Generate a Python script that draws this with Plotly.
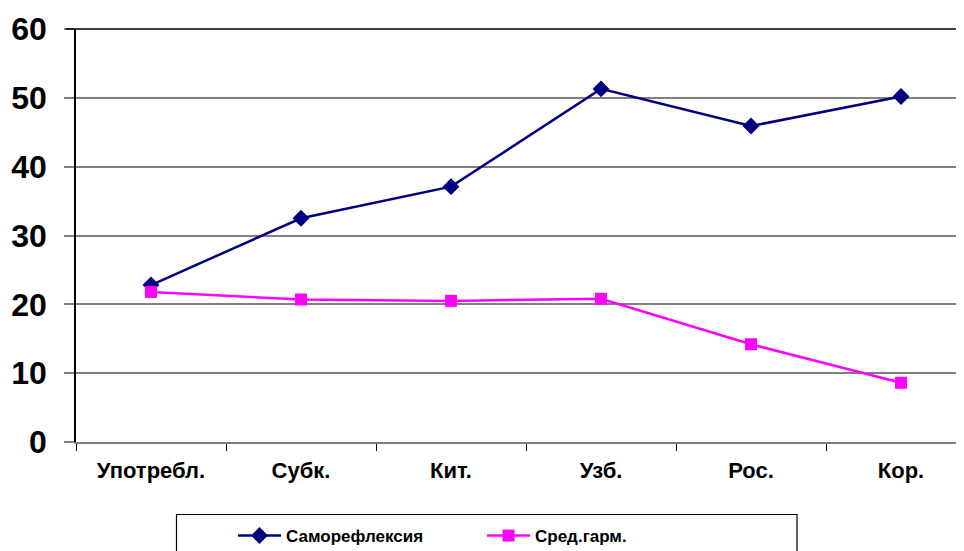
import plotly.graph_objects as go

categories = ["Употребл.", "Субк.", "Кит.", "Узб.", "Рос.", "Кор."]
samorefleksiya = [22.8, 32.5, 37.1, 51.3, 45.9, 50.2]
sred_garm = [21.8, 20.7, 20.5, 20.8, 14.2, 8.6]
y_ticks = [0, 10, 20, 30, 40, 50, 60]

FONT = "Liberation Sans, Arial, sans-serif"

fig = go.Figure()
fig.add_trace(go.Scatter(
    x=categories, y=samorefleksiya, name="Саморефлексия", mode="lines+markers",
    line=dict(color="#000080", width=2.5),
    marker=dict(symbol="diamond", size=13, color="#000080"),
))
fig.add_trace(go.Scatter(
    x=categories, y=sred_garm, name="Сред.гарм.", mode="lines+markers",
    line=dict(color="#FF00FF", width=2.5),
    marker=dict(symbol="square", size=12, color="#FF00FF"),
))

W, H = 964, 551
OFF = 8  # page body margin
L, R, T, B = 68, 0, 21, 117
pw = W - L - R
ph = H - T - B

def px_x(px):
    return (px - OFF - L) / pw

def px_y(py):
    return (H - B - (py - OFF)) / ph

fig.update_layout(
    width=W, height=H,
    margin=dict(l=L, r=R, t=T, b=B, pad=0, autoexpand=False),
    paper_bgcolor="white", plot_bgcolor="white",
    font=dict(family=FONT, color="black"),
    showlegend=True,
    legend=dict(
        orientation="h", x=px_x(233), xanchor="left", y=px_y(536), yanchor="middle",
        font=dict(family=FONT, size=17, color="black", weight="bold"),
        bgcolor="rgba(0,0,0,0)", borderwidth=0,
        entrywidth=191, entrywidthmode="pixels",
        itemwidth=43,
    ),
    xaxis=dict(
        range=[-0.5, -0.5 + pw / 150.0],
        showgrid=False, showline=True, linecolor="#808080", linewidth=2,
        ticks="outside", ticklen=7, tickcolor="#000000", tickwidth=1,
        tickson="boundaries", automargin=False, ticklabelstandoff=8,
        tickfont=dict(family=FONT, size=22, color="black", weight="bold"),
        zeroline=False, fixedrange=True,
    ),
    yaxis=dict(
        range=[0, 60], tickvals=y_ticks, automargin=False,
        showgrid=True, gridcolor="#808080", gridwidth=1.5,
        showline=True, linecolor="#000000", linewidth=1.5,
        ticks="outside", ticklen=10, tickcolor="#808080", tickwidth=1.5,
        ticklabelstandoff=11,
        tickfont=dict(family=FONT, size=32, color="black", weight="bold"),
        zeroline=False, fixedrange=True,
    ),
    shapes=[
        dict(type="line", xref="paper", yref="paper", x0=px_x(66), x1=1, y0=1, y1=1,
             line=dict(color="black", width=1.5)),
        dict(type="rect", xref="paper", yref="paper", x0=px_x(176.5), x1=px_x(797),
             y0=px_y(580), y1=px_y(514.5), line=dict(color="black", width=1.2),
             fillcolor="rgba(0,0,0,0)", layer="below"),
    ],
)

fig.write_html("out.html")
